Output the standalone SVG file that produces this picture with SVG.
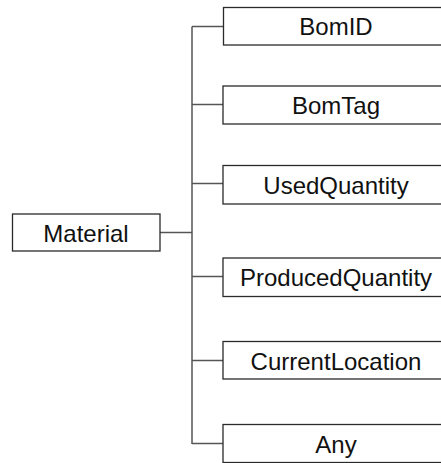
<svg xmlns="http://www.w3.org/2000/svg" width="441" height="463" viewBox="0 0 441 463">
<style>
.box{fill:#fff;stroke:#2a2a2a;stroke-width:1.3}
.lbl{font-family:"Liberation Sans",Arial,sans-serif;font-size:24px;fill:#111;text-anchor:middle}
.con{fill:none;stroke:#555;stroke-width:1.5}
</style>
<rect width="441" height="463" fill="#fff"/>
<g id="connectors">
<line class="con" x1="192" y1="26.5" x2="192" y2="444"/>
<line class="con" x1="160" y1="232.5" x2="192" y2="232.5"/>
<line class="con" x1="192" y1="26.5" x2="223" y2="26.5"/>
<line class="con" x1="192" y1="104.5" x2="223" y2="104.5"/>
<line class="con" x1="192" y1="183.5" x2="223" y2="183.5"/>
<line class="con" x1="192" y1="276.5" x2="223" y2="276.5"/>
<line class="con" x1="192" y1="360.5" x2="223" y2="360.5"/>
<line class="con" x1="192" y1="443.5" x2="223" y2="443.5"/>
</g>
<g id="material"><rect class="box" x="12.5" y="214" width="147.5" height="37"/><text class="lbl" x="86" y="242">Material</text></g>
<g id="bomid"><rect class="box" x="223.5" y="7.5" width="226" height="37.5"/><text class="lbl" x="336" y="35">BomID</text></g>
<g id="bomtag"><rect class="box" x="223" y="86" width="226" height="38"/><text class="lbl" x="336" y="114">BomTag</text></g>
<g id="usedquantity"><rect class="box" x="223" y="165.5" width="226" height="38.5"/><text class="lbl" x="336" y="193.5">UsedQuantity</text></g>
<g id="producedquantity"><rect class="box" x="223" y="258" width="226" height="38.5"/><text class="lbl" x="336" y="286">ProducedQuantity</text></g>
<g id="currentlocation"><rect class="box" x="223" y="341.5" width="226" height="37.5"/><text class="lbl" x="336" y="369.5">CurrentLocation</text></g>
<g id="any"><rect class="box" x="223" y="424.5" width="226" height="38"/><text class="lbl" x="336" y="452.5">Any</text></g>
</svg>
